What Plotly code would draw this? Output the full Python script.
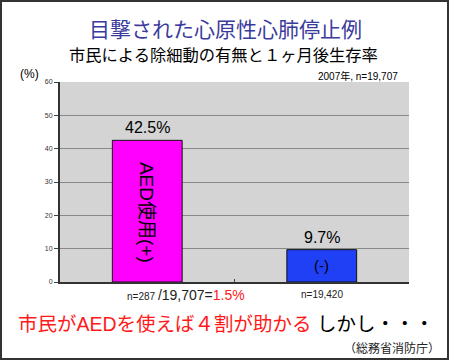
import plotly.graph_objects as go

categories = ["AED使用(+)", "(-)"]
survival = [42.5, 9.7]
bar_colors = ["#ff00ff", "#2040f5"]
counts = ["n=287", "n=19,420"]
y_ticks = [0, 10, 20, 30, 40, 50, 60]

FONT = "Liberation Sans, Arial, Noto Sans CJK JP, sans-serif"

L, R, T, B = 60, 41, 82, 79
W, H = 450, 361
pw, ph = W - L - R, H - T - B

def px(x):
    return (x - L) / pw

def py(y):
    return (H - B - y) / ph

fig = go.Figure()
fig.add_trace(go.Bar(
    x=categories, y=survival,
    marker=dict(color=bar_colors, line=dict(color="#111", width=1)),
    width=0.4, hoverinfo="skip",
))

ann = []
# value labels
for c, v in zip(categories, survival):
    ann.append(dict(x=c, y=v, xref="x", yref="y", text=f"{v}%", showarrow=False,
                    xanchor="center", yanchor="bottom", yshift=2,
                    font=dict(size=16, color="#000", family=FONT)))
# inside labels
ann.append(dict(x=categories[0], y=survival[0] / 2, xref="x", yref="y", text=categories[0],
                showarrow=False, textangle=90, xanchor="center", yanchor="middle", yshift=-1,
                font=dict(size=19, color="#000", family=FONT)))
ann.append(dict(x=categories[1], y=survival[1] / 2, xref="x", yref="y", text=categories[1],
                showarrow=False, xanchor="center", yanchor="middle",
                font=dict(size=15, color="#000", family=FONT)))
# counts below axis
ann.append(dict(x=categories[0], y=0, xref="x", yref="paper", xanchor="left", xshift=-22,
                yanchor="top", yshift=-3,
                text=counts[0] + ' <span style="font-size:14px">/19,707=</span>'
                     '<span style="font-size:14px;fill:#ff2020">1.5%</span>',
                showarrow=False, font=dict(size=10, color="#222", family=FONT)))
ann.append(dict(x=categories[1], y=0, xref="x", yref="paper", xanchor="center",
                yanchor="top", yshift=-5,
                text=counts[1], showarrow=False, font=dict(size=10, color="#222", family=FONT)))
# titles and notes
ann.append(dict(x=px(225), y=py(29), xref="paper", yref="paper", text="目撃された心原性心肺停止例",
                xanchor="center", yanchor="middle",
                showarrow=False, font=dict(size=21, color="#3b3b9e", family=FONT)))
ann.append(dict(x=px(223), y=py(55), xref="paper", yref="paper", text="市民による除細動の有無と１ヶ月後生存率",
                xanchor="center", yanchor="middle",
                showarrow=False, font=dict(size=16.3, color="#000", family=FONT)))
ann.append(dict(x=px(29), y=py(74), xref="paper", yref="paper", text="(%)",
                xanchor="center", yanchor="middle",
                showarrow=False, font=dict(size=12, color="#000", family=FONT)))
ann.append(dict(x=px(400), y=py(76), xref="paper", yref="paper", text="2007年, n=19,707",
                xanchor="right", yanchor="middle",
                showarrow=False, font=dict(size=10, color="#000", family=FONT)))
ann.append(dict(x=px(16), y=py(324), xref="paper", yref="paper", xanchor="left", yanchor="middle",
                text='<span style="fill:#ff1a1a">市民がAEDを使えば４割が助かる</span> しかし・・・',
                showarrow=False, font=dict(size=19.5, color="#000", family=FONT)))
ann.append(dict(x=px(442), y=py(348), xref="paper", yref="paper", xanchor="right", yanchor="middle",
                text="（総務省消防庁）", showarrow=False, font=dict(size=12, color="#222", family=FONT)))

fig.update_layout(
    width=W, height=H,
    margin=dict(l=L, r=R, t=T, b=B),
    paper_bgcolor="white", plot_bgcolor="#d4d4d4",
    showlegend=False, bargap=0.6,
    annotations=ann,
    shapes=[dict(type="rect", xref="paper", yref="paper",
                 x0=px(1), x1=px(448), y0=py(359), y1=py(1),
                 line=dict(color="#333", width=2), layer="above")],
    xaxis=dict(showticklabels=False, tickson="boundaries", ticks="inside", ticklen=3,
               tickcolor="#444", showline=True, linecolor="#333", linewidth=2,
               showgrid=False, zeroline=False),
    yaxis=dict(range=[0, 60], tickvals=y_ticks, ticks="outside", ticklen=4, tickcolor="#444",
               tickfont=dict(size=7, color="#333", family=FONT),
               showline=True, linecolor="#333", linewidth=2,
               showgrid=True, gridcolor="#888", gridwidth=1, zeroline=False),
)

fig.write_html("out.html", config={"displayModeBar": False},
               post_script="document.body.style.margin='0';document.body.style.overflow='hidden';")
